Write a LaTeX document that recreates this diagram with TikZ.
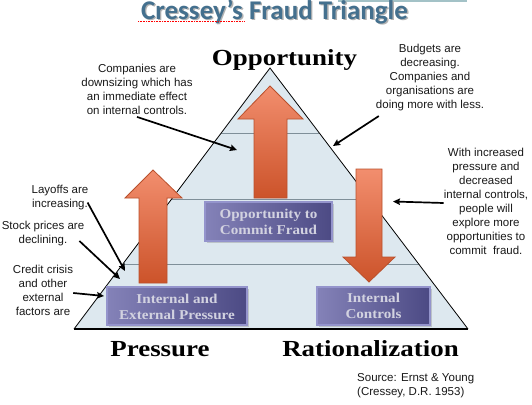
\documentclass[tikz,border=0pt]{standalone}
\usepackage{fontspec}
\setmainfont{Liberation Sans}
\newfontfamily\titlefont{Carlito}
\newfontfamily\headfont{Liberation Serif}
\usetikzlibrary{arrows.meta,shadows,calc}
\definecolor{titleblue}{HTML}{44708E}
\definecolor{trifill}{HTML}{DDE8EF}
\definecolor{bandline}{HTML}{7F8F99}
\definecolor{orlight}{HTML}{F28E6E}
\definecolor{ordark}{HTML}{CC532A}
\definecolor{oredge}{HTML}{B9502C}
\definecolor{boxl}{HTML}{8482B8}
\definecolor{boxr}{HTML}{4C4A84}
\definecolor{boxedge}{HTML}{9494CC}
\definecolor{boxtxt}{HTML}{D2D2E0}
\definecolor{topbar}{HTML}{A3C2C7}
\begin{document}
\begin{tikzpicture}[x=1pt,y=-1pt,
  anntext/.style={font=\fontsize{11.5}{14}\selectfont, align=center, inner sep=0pt, text=black!90},
  heading/.style={font=\headfont\bfseries\fontsize{23}{23}\selectfont, anchor=base, xscale=1.17, inner sep=0pt},
  pbox/.style={draw=boxedge, line width=1.2pt, left color=boxl, right color=boxr, inner sep=0pt,
     drop shadow={shadow xshift=1.5pt, shadow yshift=-1.5pt, opacity=.35}},
  boxtext/.style={font=\headfont\bfseries\fontsize{13.5}{16}\selectfont, text=boxtxt, align=center, xscale=1.12, inner sep=0pt},
  fatarrow/.style={draw=oredge, line width=0.8pt, top color=orlight, bottom color=ordark},
  ann/.style={draw=black, line width=1.7pt, -{Stealth[length=7pt,width=6.5pt,inset=1pt]}}
]
\useasboundingbox (0,0) rectangle (532,404);
\fill[white] (0,0) rectangle (532,404);
% top bar
\fill[topbar] (338,0) rectangle (467,2.5);
% title (with its shadow in the same node)
\node[font=\titlefont\bfseries\fontsize{27}{27}\selectfont, text=titleblue, anchor=base, inner sep=0pt] (title) at (274.5,19.2)
  {\makebox[0pt][l]{\hspace{1.4pt}\raisebox{-1.4pt}{\textcolor{black!30}{Cressey’s Fraud Triangle}}}Cressey’s Fraud Triangle};
\draw[red, densely dotted, line width=0.6pt] (138,21.5) -- (244,21.5);
% triangle
\coordinate (apex) at (270,68);
\coordinate (bl) at (74,329);
\coordinate (br) at (468,329);
\fill[trifill] (apex) -- (bl) -- (br) -- cycle;
\draw[bandline, line width=0.8pt] (221.2,133) -- (319.3,133);
\draw[bandline, line width=0.8pt] (171.6,199) -- (369.4,199);
\draw[bandline, line width=0.8pt] (122.8,264) -- (418.7,264);
\draw[black, line width=0.8pt] (bl) -- (apex) -- (br);
\draw[black, line width=1.4pt] (bl) -- (br);
% fat arrows
\path[fatarrow] (153,170) -- (182,198) -- (167,198) -- (167,283) -- (139,283) -- (139,198) -- (125,198) -- cycle;
\path[fatarrow] (270,86) -- (303,119) -- (287,119) -- (287,198) -- (254,198) -- (254,119) -- (238,119) -- cycle;
\path[fatarrow] (356,169) -- (382,169) -- (382,257) -- (395,257) -- (369,282) -- (343,257) -- (356,257) -- cycle;
% boxes
\node[pbox, minimum width=127pt, minimum height=39pt] (opp) at (268.5,221.5) {};
\node[boxtext] (opptxt) at (268.5,222) {Opportunity to\\Commit Fraud};
\node[pbox, minimum width=140pt, minimum height=38pt] (pres) at (177,306) {};
\node[boxtext] (prestxt) at (177,306.5) {Internal and\\External Pressure};
\node[pbox, minimum width=113pt, minimum height=38pt] (ctrl) at (373.5,306) {};
\node[boxtext] (ctrltxt) at (373.5,306) {Internal\\Controls};
% headings
\node[heading] (hopp) at (284.5,65) {Opportunity};
\node[heading] (hpres) at (160,356) {Pressure};
\node[heading] (hrat) at (370.5,356) {Rationalization};
% annotations
\node[anntext] (ann1) at (137,89.5) {Companies are\\downsizing which has\\an immediate effect\\on internal controls.};
\node[anntext] (ann2) at (430,77.5) {Budgets are\\decreasing.\\Companies and\\organisations are\\doing more with less.};
\node[anntext] (ann3) at (486,201.5) {With increased\\pressure and\\decreased\\internal controls,\\people will\\explore more\\opportunities to\\commit\ \ fraud.};
\node[anntext] (lay) at (60,197.5) {Layoffs are\\increasing.};
\node[anntext] (stock) at (43,234) {Stock prices are\\declining.};
\node[anntext] (credit) at (43,290) {Credit crisis\\and other\\external\\factors are};
\node[anntext, align=left, anchor=north west] (src) at (357,373) {Source: Ernst \& Young\\(Cressey, D.R. 1953)};
% annotation arrows
\coordinate (t1) at (237,150);
\coordinate (t2) at (333,146);
\coordinate (t3) at (393,201.5);
\coordinate (t4) at (125,271);
\coordinate (t5) at (120,279);
\coordinate (t6) at (104,296);
\draw[ann] ($(ann1.south)+(0,2)$) -- (t1);
\draw[ann] ($(ann2.south west)+(3,5)$) -- (t2);
\draw[ann] ($(ann3.west)+(0,1.5)$) -- (t3);
\draw[ann] ($(lay.east)+(-1,5)$) -- (t4);
\draw[ann] ($(stock.east)+(-5,7)$) -- (t5);
\draw[ann] ($(credit.east)+(0,3)$) -- (t6);
\end{tikzpicture}
\end{document}
